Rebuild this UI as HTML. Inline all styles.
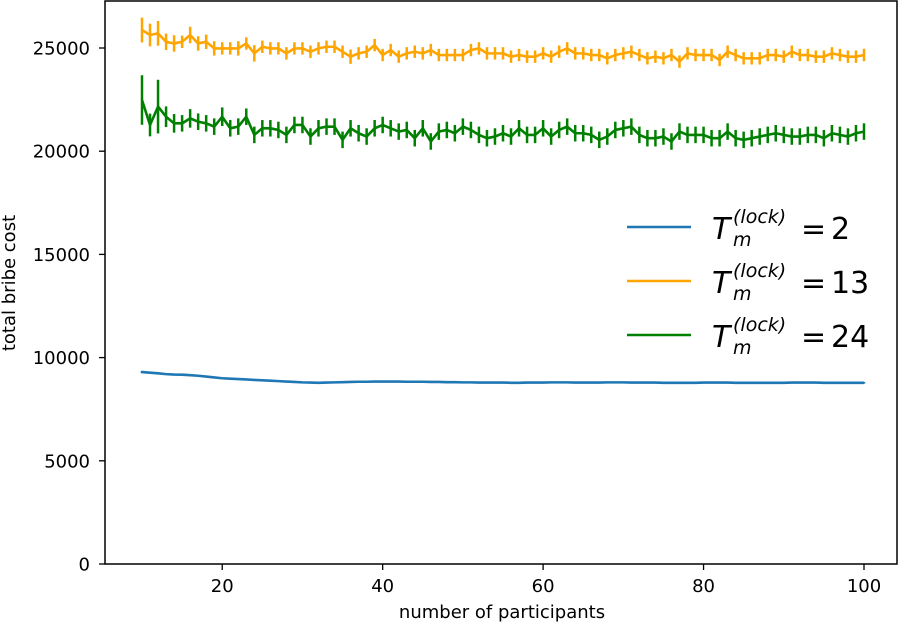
<!DOCTYPE html>
<html><head><meta charset="utf-8"><style>
body{margin:0;background:#fff;}
svg{display:block;font-family:"DejaVu Sans","Liberation Sans",sans-serif;}
</style></head><body>
<svg id="chart" width="901" height="625" viewBox="0 0 901 625"></svg>
<script>
const xValues = [];
for (let n = 10; n <= 100; n++) xValues.push(n);
const blueValues = [9300,9270,9240,9200,9180,9170,9150,9120,9080,9040,9000,8980,8960,8940,8920,8900,8880,8860,8840,8820,8800,8790,8780,8790,8800,8810,8820,8830,8830,8840,8840,8840,8840,8830,8830,8830,8820,8820,8810,8810,8800,8800,8790,8790,8790,8790,8780,8780,8790,8790,8790,8800,8800,8800,8790,8790,8790,8790,8800,8800,8800,8790,8790,8790,8790,8780,8780,8780,8780,8780,8790,8790,8790,8790,8780,8780,8780,8780,8780,8780,8780,8790,8790,8790,8790,8780,8780,8780,8780,8780,8780];
const orangeValues = [25870,25630,25710,25300,25220,25300,25630,25220,25300,24980,24980,24980,24980,25220,24740,25060,24980,24980,24740,24980,24980,24820,24980,25060,25060,24820,24580,24740,24820,25140,24660,24900,24580,24740,24820,24740,24900,24660,24660,24660,24660,24900,24980,24740,24740,
24740,24580,24660,24580,24580,24740,24580,24820,24980,24740,24740,24660,24660,24500,24660,24740,24820,24660,24500,24580,24500,24660,24340,24740,24660,24660,24660,24420,24820,24660,24500,24500,24500,24660,24660,24580,24820,24660,24660,24580,24580,24740,24660,24580,24580,24660];
const greenValues = [22480,21270,22160,21670,21350,21350,21590,21430,21350,21190,21670,21110,21190,21670,20790,21110,21110,21030,20790,21270,21270,20710,21110,21190,21190,20550,21110,20870,20710,21110,21270,21110,20950,21030,20630,21110,20470,20950,21030,20870,21190,21030,20790,20630,20710,
20870,20710,21110,20790,20790,21110,20710,21030,21190,20870,20870,20790,20550,20710,21030,21110,21190,20790,20630,20630,20710,20470,20950,20790,20790,20790,20630,20630,20950,20630,20550,20630,20710,20790,20870,20790,20710,20710,20790,20790,20630,20870,20790,20710,20870,20950];
const blueErr = [60,50,50,40,40,40,40,30,30,30];
const orangeErr = [600,550,600,400,400,300,400,350,350,350,300,300,350,300,400,300,300,300,300,300,300,300,300,300,300,300,350,300,300,300];
const greenErr = [1200,550,1300,500,450,400,450,400,400,400,450,400,400,400,400,400,400,400,400,400,400];
const yTicks = [0,5000,10000,15000,20000,25000];
const xTicks = [20,40,60,80,100];
const seriesNames = ["2","13","24"];

const NS="http://www.w3.org/2000/svg";
const svg=document.getElementById('chart');
const L=105,R=897,T=1,B=564;
const FS=18;
const xs=v=>142+(v-10)*(864-142)/90;
const ys=v=>564-v*(564-48)/25000;
function mk(tag,attrs,parent){const e=document.createElementNS(NS,tag);for(const k in attrs)e.setAttribute(k,attrs[k]);(parent||svg).appendChild(e);return e;}

const series=[[blueValues,blueErr,'#1f77b4',40],[orangeValues,orangeErr,'#ffa500',300],[greenValues,greenErr,'#008000',400]];
series.forEach(([vals,errs,col,def],si)=>{
  const g=mk('g',{});
  
  
  vals.forEach((v,i)=>{
    const e=errs[i]!==undefined?errs[i]:def;
    const l=mk('line',{x1:xs(xValues[i]),x2:xs(xValues[i]),y1:ys(v-e),y2:ys(v+e),stroke:col,'stroke-width':2.5},g);
    
    
  });
  const p=mk('polyline',{points:vals.map((v,i)=>xs(xValues[i])+','+ys(v)).join(' '),fill:'none',stroke:col,'stroke-width':2.6,'stroke-linejoin':'round'},g);
  
  
});

const frame=mk('rect',{x:L,y:T,width:R-L,height:B-T,fill:'none',stroke:'#000','stroke-width':1.5});



yTicks.forEach(t=>{
  mk('line',{x1:L-6,x2:L,y1:ys(t),y2:ys(t),stroke:'#000','stroke-width':1.3});
  const tx=mk('text',{x:L-15,y:ys(t)+6.5,'text-anchor':'end','font-size':FS});
  tx.textContent=t;
  
  
});
xTicks.forEach(t=>{
  mk('line',{x1:xs(t),x2:xs(t),y1:B,y2:B+6,stroke:'#000','stroke-width':1.3});
  const tx=mk('text',{x:xs(t),y:B+28,'text-anchor':'middle','font-size':FS});
  tx.textContent=t;
  
  
});
const xt=mk('text',{x:502,y:618,'text-anchor':'middle','font-size':FS});
xt.textContent='number of participants';


const yt=mk('text',{x:0,y:0,'text-anchor':'middle','font-size':FS,transform:'translate(15,283) rotate(-90)'});
yt.textContent='total bribe cost';



const cols=['#1f77b4','#ffa500','#008000'];
seriesNames.forEach((nm,i)=>{
  const y=227+i*54;
  const g=mk('g',{});
  
  
  mk('line',{x1:627,x2:691,y1:y,y2:y,stroke:cols[i],'stroke-width':2.6},g);
  const t1=mk('text',{x:712,y:y+12,'font-size':30,'font-style':'italic'},g);t1.textContent='T';
  const t2=mk('text',{x:733,y:y-4,'font-size':19,'font-style':'italic'},g);t2.textContent='(lock)';
  const t3=mk('text',{x:733,y:y+19,'font-size':19,'font-style':'italic'},g);t3.textContent='m';
  const t4=mk('text',{x:801,y:y+12,'font-size':30},g);t4.textContent='=';
  const t5=mk('text',{x:831,y:y+12,'font-size':30},g);t5.textContent=nm;
});
</script>
</body></html>
